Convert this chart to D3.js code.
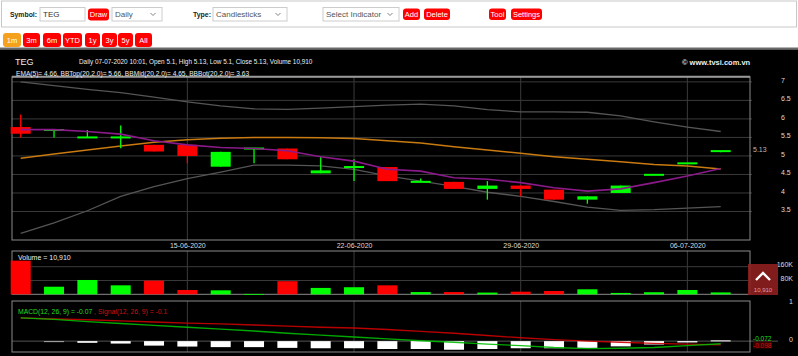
<!DOCTYPE html>
<html><head><meta charset="utf-8">
<script src="https://cdn.jsdelivr.net/npm/d3@7"></script>
<style>
html,body{margin:0;padding:0;background:#fff;}
svg{display:block;font-family:"Liberation Sans",Arial,sans-serif;}
</style></head>
<body>
<svg id="c" width="798" height="356"></svg>
<script>
const dates = ["08-06-2020","09-06-2020","10-06-2020","11-06-2020","12-06-2020","15-06-2020","16-06-2020","17-06-2020","18-06-2020","19-06-2020","22-06-2020","23-06-2020","24-06-2020","25-06-2020","26-06-2020","29-06-2020","30-06-2020","01-07-2020","02-07-2020","03-07-2020","06-07-2020","07-07-2020"];
const open  = [5.78,5.70,5.50,5.50,5.30,5.30,4.71,5.20,5.20,4.53,4.70,4.70,4.30,4.30,4.11,4.20,4.09,3.82,4.00,4.49,4.80,5.10];
const close = [5.60,5.70,5.50,5.50,5.12,5.00,5.11,5.20,4.91,4.61,4.70,4.32,4.30,4.11,4.20,4.11,3.82,3.91,4.20,4.49,4.80,5.13];
const high  = [6.12,5.70,5.70,5.82,5.30,5.30,5.11,5.20,5.20,5.00,4.91,4.70,4.39,4.30,4.32,4.20,4.09,3.91,4.20,4.49,4.80,5.13];
const low   = [5.50,5.50,5.50,5.21,5.12,4.80,4.71,4.80,4.91,4.53,4.32,4.32,4.30,4.11,3.82,3.91,3.82,3.71,4.00,4.49,4.80,5.10];
const volume = [195000,44000,83000,52000,79000,25000,23000,2000,76000,37000,41000,52000,13000,13000,10000,15000,19000,29000,8000,12000,25000,10910];
const ema5  = [5.71,5.71,5.66,5.59,5.41,5.30,5.23,5.20,5.14,4.98,4.86,4.64,4.59,4.41,4.37,4.28,4.14,4.05,4.11,4.28,4.46,4.66];
const bbMid = [4.94,5.05,5.16,5.27,5.37,5.44,5.48,5.50,5.50,5.49,5.47,5.41,5.35,5.25,5.16,5.07,4.98,4.91,4.84,4.77,4.73,4.65];
const bbTop = [7.00,6.90,6.80,6.71,6.59,6.46,6.35,6.27,6.26,6.29,6.33,6.37,6.40,6.35,6.25,6.19,6.19,6.18,6.08,5.92,5.78,5.66];
const bbBot = [2.91,3.19,3.52,3.91,4.17,4.39,4.56,4.75,4.75,4.73,4.64,4.46,4.32,4.18,4.02,3.91,3.77,3.62,3.53,3.55,3.59,3.63];
const macd   = [0.62,0.58,0.52,0.47,0.42,0.37,0.32,0.27,0.21,0.16,0.11,0.06,0.01,-0.03,-0.08,-0.12,-0.17,-0.20,-0.19,-0.17,-0.12,-0.07];
const signal = [0.62,0.59,0.57,0.54,0.51,0.48,0.46,0.43,0.40,0.37,0.35,0.31,0.26,0.21,0.15,0.09,0.04,0.00,-0.03,-0.06,-0.08,-0.10];
const hist   = [0,-0.01,-0.045,-0.065,-0.12,-0.145,-0.16,-0.16,-0.18,-0.19,-0.19,-0.21,-0.21,-0.23,-0.21,-0.19,-0.19,-0.18,-0.14,-0.09,-0.035,0.02];
const dateTicks = ["15-06-2020","22-06-2020","29-06-2020","06-07-2020"];
const priceTicks = [3.5,4,4.5,5,5.5,6,6.5,7];
const volTicks = [80000,160000];
const volTickLabels = ["80K","160K"];
const macdTicks = [0,1];
const rangeButtons = ["1m","3m","6m","YTD","1y","3y","5y","All"];

const svg = d3.select("#c");
const GREEN = "#00ff00", RED = "#ff0000";

// ---------- toolbar ----------
svg.append("rect").attr("x",1.5).attr("y",1).attr("width",795).attr("height",26)
  .attr("fill","#fff").attr("stroke","#c8c8c8");
function label(x,y,t,opt={}){
  const e = svg.append("text").attr("x",x).attr("y",y).text(t)
    .attr("font-size",opt.size||8).attr("font-weight",opt.bold?"bold":"normal")
    .attr("fill",opt.fill||"#333").attr("text-anchor",opt.anchor||"start");
  if (opt.len) e.attr("textLength",opt.len).attr("lengthAdjust","spacingAndGlyphs");
  return e;
}
function button(x,y,w,h,t,fill){
  svg.append("rect").attr("x",x).attr("y",y).attr("width",w).attr("height",h).attr("rx",3).attr("fill",fill||RED);
  label(x+w/2,y+h/2+2.8,t,{size:7.5,fill:"#fff",anchor:"middle"});
}
function select(x,w,t){
  svg.append("rect").attr("x",x).attr("y",7.5).attr("width",w).attr("height",13.5).attr("fill","#fff").attr("stroke","#ccc");
  label(x+3,17.3,t,{size:8,fill:"#555"});
  const cx = x+w-9;
  svg.append("polyline").attr("points",`${cx-2.5},13 ${cx},15.5 ${cx+2.5},13`).attr("fill","none").attr("stroke","#777").attr("stroke-width",0.9);
}
label(10,17.3,"Symbol:",{bold:true,size:7.5,len:27,fill:"#222"});
svg.append("rect").attr("x",40).attr("y",7.5).attr("width",45).attr("height",13.5).attr("fill","#fff").attr("stroke","#ccc");
label(43,17.3,"TEG",{size:8,fill:"#333"});
button(88,8.5,21,12,"Draw");
select(112,50,"Daily");
label(193,17.3,"Type:",{bold:true,size:7.5,len:18,fill:"#222"});
select(213,74,"Candlesticks");
select(323,76,"Select Indicator");
button(403,8.5,17,11.5,"Add");
button(424,8.5,26,11.5,"Delete");
button(489,8.5,17,11.5,"Tool");
button(511,8.5,31,11.5,"Settings");

const rb = [[3,18],[23,17],[43,18],[63,19],[85,15],[102,15],[118,15],[135,17]];
rangeButtons.forEach((t,i)=>button(rb[i][0],33,rb[i][1],14,t,i===0?"#f5a11c":RED));
svg.append("rect").attr("x",0).attr("y",47.5).attr("width",798).attr("height",2).attr("fill","#6a6a6a");
svg.append("rect").attr("x",0).attr("y",49.5).attr("width",798).attr("height",306.5).attr("fill","#000");

// ---------- scales ----------
const x = d3.scalePoint().domain(dates).range([20.7,720.7]);
const y = d3.scaleLinear().domain([2.73,7.14]).range([240,76.7]);
const yv = d3.scaleLinear().domain([0,251000]).range([294.3,251]);
const ym = d3.scaleLinear().domain([-0.29,1.07]).range([352,301]);
const L = 12, R = 750, BW = 20;
const panels = [[76.7,240],[251,294.3],[301,352]];
const GRID = "#3a3a3a";

// horizontal gridlines
svg.append("g").selectAll("line").data(priceTicks).join("line")
  .attr("x1",L).attr("x2",R+2).attr("y1",d=>y(d)).attr("y2",d=>y(d)).attr("stroke",GRID).attr("stroke-width",1);
svg.append("g").selectAll("line").data(volTicks).join("line")
  .attr("x1",L).attr("x2",R+2).attr("y1",d=>yv(d)).attr("y2",d=>yv(d)).attr("stroke",GRID);
svg.append("line").attr("x1",L).attr("x2",R+28).attr("y1",ym(0)).attr("y2",ym(0)).attr("stroke","#555");
// vertical gridlines
panels.forEach(p=>{
  svg.append("g").selectAll("line").data(dateTicks).join("line")
    .attr("x1",d=>x(d)).attr("x2",d=>x(d)).attr("y1",p[0]).attr("y2",p[1]).attr("stroke",GRID);
});

// panel borders
panels.forEach(p=>{
  svg.append("rect").attr("x",L).attr("y",p[0]).attr("width",R-L).attr("height",p[1]-p[0])
    .attr("fill","none").attr("stroke","#8a8a8a").attr("stroke-width",1);
});
svg.append("line").attr("x1",L).attr("x2",R).attr("y1",76.7).attr("y2",76.7).attr("stroke","#9a9a9a").attr("stroke-width",2);

// date axis
const xAxis = d3.axisBottom(x).tickValues(dateTicks).tickSize(0).tickPadding(0);
const gx = svg.append("g").attr("transform","translate(0,243)").call(xAxis);
gx.select(".domain").remove();
gx.selectAll("text").attr("font-size",7).attr("fill","#ddd").attr("font-family","Liberation Sans, Arial, sans-serif");

// price axis
const gy = svg.append("g").attr("transform","translate(778,-2)")
  .call(d3.axisRight(y).tickValues(priceTicks).tickSize(0).tickPadding(3).tickFormat(d=>d));
gy.select(".domain").remove();
gy.selectAll("text").attr("font-size",7).attr("fill","#ddd").attr("font-family","Liberation Sans, Arial, sans-serif");

// Bollinger + EMA lines
const line = arr => d3.line().x((d,i)=>x(dates[i])).y(d=>y(d))(arr);
svg.append("path").attr("d",line(bbTop)).attr("fill","none").attr("stroke","#555").attr("stroke-width",1.3);
svg.append("path").attr("d",line(bbBot)).attr("fill","none").attr("stroke","#555").attr("stroke-width",1.3);
svg.append("path").attr("d",line(bbMid)).attr("fill","none").attr("stroke","#c97a10").attr("stroke-width",1.5);

// candles
const idx = d3.range(dates.length);
const col = i => close[i] >= open[i] ? GREEN : RED;
svg.append("g").selectAll("line").data(idx).join("line")
  .attr("x1",i=>x(dates[i])).attr("x2",i=>x(dates[i]))
  .attr("y1",i=>y(high[i])).attr("y2",i=>y(low[i]))
  .attr("stroke",col).attr("stroke-width",1.3);
svg.append("g").selectAll("rect").data(idx).join("rect")
  .attr("x",i=>x(dates[i])-BW/2).attr("width",BW)
  .attr("y",i=>Math.min(y(open[i]),y(close[i]))-(Math.abs(y(open[i])-y(close[i]))<2?1:0))
  .attr("height",i=>Math.max(2,Math.abs(y(open[i])-y(close[i]))))
  .attr("fill",col);
svg.append("path").attr("d",line(ema5)).attr("fill","none").attr("stroke","#8a1a8a").attr("stroke-width",1.6);

// last price label
svg.append("text").attr("x",753).attr("y",y(close[close.length-1])-2+2.5).text(close[close.length-1].toFixed(2))
  .attr("font-size",7).attr("fill","#bbb");

// header texts
label(15,65,"TEG",{size:9,fill:"#eee"});
label(79,64.3,"Daily 07-07-2020 10:01, Open 5.1, High 5.13, Low 5.1, Close 5.13, Volume 10,910",{size:6.4,fill:"#eee"});
label(16,76.2,"EMA(5)= 4.66, BBTop(20,2.0)= 5.66, BBMid(20,2.0)= 4.65, BBBot(20,2.0)= 3.63",{size:6.6,fill:"#eee"});
label(682,64.5,"© www.tvsi.com.vn",{size:7.5,fill:"#eee",bold:true});

// volume bars
svg.append("g").selectAll("rect").data(idx).join("rect")
  .attr("x",i=>x(dates[i])-BW/2).attr("width",BW)
  .attr("y",i=>yv(volume[i])).attr("height",i=>Math.max(0.8,yv(0)-yv(volume[i])))
  .attr("fill",col);
label(18,260,"Volume = 10,910",{size:7,fill:"#eee"});
const gvy = svg.append("g").attr("transform","translate(793,-2)")
  .call(d3.axisLeft(yv).tickValues(volTicks).tickSize(0).tickPadding(0).tickFormat((d,i)=>volTickLabels[i]));
gvy.select(".domain").remove();
gvy.selectAll("text").attr("font-size",7).attr("fill","#ddd").attr("font-family","Liberation Sans, Arial, sans-serif");
// volume marker box
svg.append("rect").attr("x",748).attr("y",264).attr("width",30).attr("height",31).attr("fill","#8e1f1f").attr("opacity",0.9);
svg.append("polyline").attr("points","756,280 763,273 770,280").attr("fill","none").attr("stroke","#fff").attr("stroke-width",2.4);
label(763,292,"10,910",{size:6,fill:"#e09a9a",anchor:"middle"});

// MACD
svg.append("g").selectAll("rect").data(idx).join("rect")
  .attr("x",i=>x(dates[i])-BW/2).attr("width",BW)
  .attr("y",i=>Math.min(ym(0),ym(hist[i]))).attr("height",i=>Math.max(hist[i]===0?0:1,Math.abs(ym(hist[i])-ym(0))))
  .attr("fill",i=>Math.abs(hist[i])<0.02?"#aaa":"#fff");
const mline = arr => d3.line().x((d,i)=>x(dates[i])).y(d=>ym(d))(arr);
svg.append("path").attr("d",mline(signal)).attr("fill","none").attr("stroke","#cc0000").attr("stroke-width",1.3).attr("opacity",0.9);
svg.append("path").attr("d",mline(macd)).attr("fill","none").attr("stroke","#00bb00").attr("stroke-width",1.3).attr("opacity",0.9);
const mt = svg.append("text").attr("x",18).attr("y",313.5).attr("font-size",6.8);
mt.append("tspan").attr("fill","#22dd22").text("MACD(12, 26, 9) = -0.07");
mt.append("tspan").attr("fill","#cc1111").text(" , Signal(12, 26, 9) = -0.1");
const gmy = svg.append("g").attr("transform","translate(793,-2)")
  .call(d3.axisLeft(ym).tickValues(macdTicks).tickSize(0).tickPadding(0).tickFormat(d=>d));
gmy.select(".domain").remove();
gmy.selectAll("text").attr("font-size",7).attr("fill","#ddd").attr("font-family","Liberation Sans, Arial, sans-serif");
svg.append("rect").attr("x",753).attr("y",341.5).attr("width",19).attr("height",7).attr("fill","#3a0000");
label(753,340.5,"-0.072",{size:6.5,fill:"#22dd22"});
label(753,347.8,"-0.098",{size:6.5,fill:"#cc1111"});
</script>
</body></html>
